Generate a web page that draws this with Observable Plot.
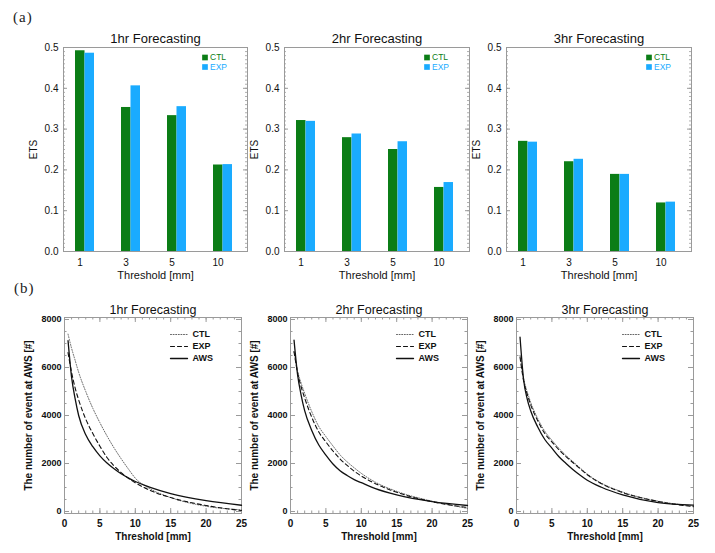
<!DOCTYPE html>
<html>
<head>
<meta charset="utf-8">
<script src="https://cdn.jsdelivr.net/npm/d3@7"></script>
<script src="https://cdn.jsdelivr.net/npm/@observablehq/plot@0.6"></script>
<style>
  body { margin: 0; background: #fff; }
  #wrap { position: relative; width: 715px; height: 553px; overflow: hidden; background: #fff; }
  .panel { position: absolute; }
  .tag { position: absolute; font-family: "Liberation Serif", "DejaVu Serif", serif; font-size: 15px; line-height: 15px; letter-spacing: 1px; color: #222; }
</style>
</head>
<body>
<div id="wrap">
  <div class="tag" style="left:13px;top:10px">(a)</div>
  <div class="tag" style="left:14px;top:281px">(b)</div>
</div>
<script>
// ---------- data ----------
const panelTitles = ["1hr Forecasting", "2hr Forecasting", "3hr Forecasting"];
const thresholds = ["1", "3", "5", "10"];
const seriesBars = ["CTL", "EXP"];

const ets1hrCTL = [0.492, 0.353, 0.333, 0.212];
const ets1hrEXP = [0.486, 0.406, 0.355, 0.213];
const ets2hrCTL = [0.321, 0.279, 0.250, 0.157];
const ets2hrEXP = [0.319, 0.288, 0.269, 0.169];
const ets3hrCTL = [0.270, 0.220, 0.189, 0.119];
const ets3hrEXP = [0.268, 0.226, 0.189, 0.121];

const etsTicks = [0, 0.1, 0.2, 0.3, 0.4, 0.5];

const seriesLines = ["CTL", "EXP", "AWS"];
const thresholdGrid = [0.5, 1, 1.5, 2, 3, 4, 5, 6, 7, 8, 9, 10, 12, 15, 20, 25];
const ctl1hr = [7390, 6800, 6300, 5800, 5000, 4300, 3700, 3150, 2650, 2200, 1780, 1390, 960, 580, 220, 70];
const exp1hr = [6620, 5800, 5150, 4650, 3850, 3250, 2720, 2250, 1900, 1620, 1390, 1200, 890, 580, 250, 40];
const aws1hr = [7120, 5600, 4700, 4000, 3200, 2700, 2320, 2020, 1780, 1570, 1400, 1250, 1020, 750, 450, 260];

const ctl2hr = [6650, 5850, 5350, 4920, 4160, 3540, 3120, 2730, 2360, 2070, 1820, 1590, 1220, 840, 430, 130];
const exp2hr = [6660, 5780, 5200, 4730, 3930, 3310, 2900, 2520, 2190, 1920, 1680, 1480, 1160, 800, 410, 165];
const aws2hr = [7140, 5700, 4850, 4200, 3380, 2770, 2350, 1980, 1700, 1500, 1330, 1200, 950, 690, 410, 250];

const ctl3hr = [6500, 5550, 5000, 4550, 3870, 3340, 2970, 2630, 2330, 2070, 1810, 1560, 1180, 810, 430, 230];
const exp3hr = [6430, 5450, 4900, 4450, 3780, 3250, 2900, 2570, 2290, 2030, 1780, 1530, 1160, 790, 420, 200];
const aws3hr = [7260, 5500, 4700, 4200, 3520, 3000, 2640, 2280, 2000, 1740, 1510, 1300, 1010, 690, 370, 270];

const eventTicks = [0, 2000, 4000, 6000, 8000];
const thresholdTicks = [0, 5, 10, 15, 20, 25];

// ---------- styles ----------
const colCTL = "#0b7d16";
const colEXP = "#1aabff";
const frameColor = "#9a9a9a";
const font = '"Liberation Sans", Arial, sans-serif';

const wrap = document.getElementById("wrap");
function place(svg, left, top) {
  const d = document.createElement("div");
  d.className = "panel";
  d.style.left = left + "px";
  d.style.top = top + "px";
  d.appendChild(svg);
  wrap.appendChild(d);
}

const colLeft = [0, 240, 465];
const colWidth = [255, 240, 250];

// ---------- top row: ETS bars ----------
const barML = [63, 44, 41], barMR = [8, 11, 24];
const etsCTL = [ets1hrCTL, ets2hrCTL, ets3hrCTL];
const etsEXP = [ets1hrEXP, ets2hrEXP, ets3hrEXP];

for (let p = 0; p < 3; p++) {
  const H = 260, mt = 22, mb = 34;
  const W = colWidth[p], ml = barML[p], mr = barMR[p];
  const fw = W - ml - mr;
  const pin = 0.588, pout = 0.29;
  const step = fw / (thresholds.length - pin + 2 * pout);
  const half = step * (1 - pin) / 2;
  const rowsCTL = thresholds.map((t, i) => ({t, s: seriesBars[0], v: etsCTL[p][i]}));
  const rowsEXP = thresholds.map((t, i) => ({t, s: seriesBars[1], v: etsEXP[p][i]}));
  const minor = d3.range(0, 51).map(i => i / 100);
  const svg = Plot.plot({
    width: W, height: H, marginLeft: ml, marginRight: mr, marginTop: mt, marginBottom: mb,
    style: {background: "transparent", fontFamily: font, fontSize: "10px", color: "#111", overflow: "visible"},
    x: {type: "band", domain: thresholds, paddingInner: pin, paddingOuter: pout, align: 0.43, axis: null},
    y: {domain: [0, 0.5], axis: null},
    marks: [
      Plot.barY(rowsCTL, {x: "t", y: "v", fill: colCTL, insetRight: half}),
      Plot.barY(rowsEXP, {x: "t", y: "v", fill: colEXP, insetLeft: half}),
      Plot.tickY(minor, {y: d => d, insetRight: fw - 2, stroke: frameColor, strokeWidth: 0.8}),
      Plot.tickY(minor, {y: d => d, insetLeft: fw - 2, stroke: frameColor, strokeWidth: 0.8}),
      Plot.tickY(etsTicks, {y: d => d, insetRight: fw - 4, stroke: frameColor}),
      Plot.tickY(etsTicks, {y: d => d, insetLeft: fw - 4, stroke: frameColor}),
      Plot.frame({stroke: frameColor}),
      Plot.axisY({ticks: etsTicks, tickFormat: d3.format(".1f"), tickSize: 0, tickPadding: 5, label: null, fontSize: 10}),
      Plot.axisX({tickSize: 0, tickPadding: 7, dx: -5, label: null, fontSize: 10}),
      Plot.text([panelTitles[p]], {frameAnchor: "top", lineAnchor: "middle", dy: -9, fontSize: 13, fill: "#111"}),
      Plot.text(["Threshold [mm]"], {frameAnchor: "bottom", lineAnchor: "middle", dy: 24, fontSize: 11, fill: "#111"}),
      Plot.text(["ETS"], {frameAnchor: "left", textAnchor: "middle", lineAnchor: "middle", rotate: -90, dx: -30, fontSize: 10, fill: "#111"}),
      Plot.dot([seriesBars[0]], {frameAnchor: "top-right", dx: -42.5, dy: 10, symbol: "square", r: 3.2, fill: colCTL}),
      Plot.dot([seriesBars[1]], {frameAnchor: "top-right", dx: -42.5, dy: 19.5, symbol: "square", r: 3.2, fill: colEXP}),
      Plot.text([seriesBars[0]], {frameAnchor: "top-right", lineAnchor: "middle", dx: -37.5, dy: 10, textAnchor: "start", fontSize: 8.5, fill: colCTL}),
      Plot.text([seriesBars[1]], {frameAnchor: "top-right", lineAnchor: "middle", dx: -37.5, dy: 19.5, textAnchor: "start", fontSize: 8.5, fill: colEXP})
    ]
  });
  place(svg, colLeft[p], 25);
}

// ---------- bottom row: event counts ----------
const lineML = [64, 50, 51], lineMR = [14, 13, 22];
const ctlAll = [ctl1hr, ctl2hr, ctl3hr];
const expAll = [exp1hr, exp2hr, exp3hr];
const awsAll = [aws1hr, aws2hr, aws3hr];
const lineStyles = {
  CTL: {stroke: "#555", strokeWidth: 0.9, strokeDasharray: "1,1.6"},
  EXP: {stroke: "#111", strokeWidth: 1.1, strokeDasharray: "4,3"},
  AWS: {stroke: "#111", strokeWidth: 1.3, strokeDasharray: null}
};
const seg = {draw(ctx, l) { ctx.moveTo(0, 0); ctx.lineTo(0, -l); }};

for (let p = 0; p < 3; p++) {
  const H = 263, mt = 27, mb = 40;
  const W = colWidth[p], ml = lineML[p], mr = lineMR[p];
  const fw = W - ml - mr, fh = H - mt - mb;
  const vals = {CTL: ctlAll[p], EXP: expAll[p], AWS: awsAll[p]};
  const xMinor = d3.range(0, 26);
  const yMinor = d3.range(0, 8001, 500);
  const legendDy = [17, 29, 41];
  const marks = [
    Plot.tickX(xMinor, {x: d => d, insetTop: fh - 2.5, stroke: frameColor}),
    Plot.tickX(xMinor, {x: d => d, insetBottom: fh - 2.5, stroke: frameColor}),
    Plot.tickX(thresholdTicks, {x: d => d, insetTop: fh - 5, stroke: frameColor}),
    Plot.tickX(thresholdTicks, {x: d => d, insetBottom: fh - 5, stroke: frameColor}),
    Plot.tickY(yMinor, {y: d => d, insetRight: fw - 2.5, stroke: frameColor}),
    Plot.tickY(yMinor, {y: d => d, insetLeft: fw - 2.5, stroke: frameColor}),
    Plot.tickY(eventTicks, {y: d => d, insetRight: fw - 5, stroke: frameColor}),
    Plot.tickY(eventTicks, {y: d => d, insetLeft: fw - 5, stroke: frameColor}),
    Plot.frame({stroke: frameColor})
  ];
  seriesLines.forEach((s, k) => {
    const rows = thresholdGrid.map((t, i) => ({t, v: vals[s][i], s}));
    marks.push(Plot.line(rows, {x: "t", y: "v", curve: "monotone-x", ...lineStyles[s]}));
    marks.push(Plot.vector([s], {frameAnchor: "top-right", dx: -71, dy: legendDy[k], length: 17, rotate: 90, anchor: "start", shape: seg, ...lineStyles[s]}));
    marks.push(Plot.text([s], {frameAnchor: "top-right", lineAnchor: "middle", dx: -49, dy: legendDy[k], textAnchor: "start", fontSize: 9, fontWeight: "bold", fill: "#111"}));
  });
  marks.push(
    Plot.axisX({ticks: thresholdTicks, tickSize: 0, tickPadding: 6, label: null, fontSize: 10, fontWeight: "bold"}),
    Plot.axisY({ticks: eventTicks, tickFormat: d3.format("d"), tickSize: 0, tickPadding: 3, label: null, fontSize: 9, fontWeight: "bold"}),
    Plot.text([panelTitles[p]], {frameAnchor: "top", lineAnchor: "middle", dy: -8, fontSize: 12.5, fill: "#111"}),
    Plot.text(["Threshold [mm]"], {frameAnchor: "bottom", lineAnchor: "middle", dy: 23, fontSize: 10, fontWeight: "bold", fill: "#111"}),
    Plot.text(["The number of event at AWS [#]"], {frameAnchor: "left", textAnchor: "middle", lineAnchor: "middle", rotate: -90, dx: -36, fontSize: 10, fontWeight: "bold", fill: "#111"})
  );
  const svg = Plot.plot({
    width: W, height: H, marginLeft: ml, marginRight: mr, marginTop: mt, marginBottom: mb,
    style: {background: "transparent", fontFamily: font, fontSize: "10px", color: "#111", overflow: "visible"},
    x: {domain: [0, 25], axis: null},
    y: {domain: [-83, 8083], axis: null},
    marks
  });
  place(svg, colLeft[p], 290);
}
</script>
</body>
</html>
